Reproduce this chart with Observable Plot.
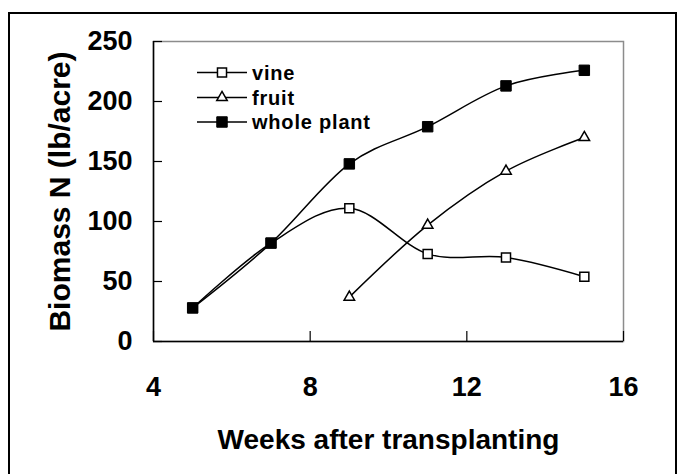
<!DOCTYPE html>
<html><head><meta charset="utf-8">
<script src="https://cdn.jsdelivr.net/npm/d3@7"></script>
<script src="https://cdn.jsdelivr.net/npm/@observablehq/plot@0.6"></script>
<style>
html,body{margin:0;padding:0;background:#fff;overflow:hidden;}
#wrap{position:relative;width:683px;height:474px;overflow:hidden;}
#border{position:absolute;left:8px;top:12px;width:669px;height:490px;border:2px solid #000;box-sizing:border-box;}
#chart,#legend{position:absolute;left:0;top:0;}
</style></head><body>
<div id="wrap"><div id="border"></div><div id="chart"></div><div id="legend"></div></div>
<script>
// Data
const weeks = [5, 7, 9, 11, 13, 15];
const vine = [28, 82, 111, 73, 70, 54];
const fruit = [null, null, 37, 97, 142, 170];
const wholePlant = [28, 82, 148, 179, 213, 226];
const seriesNames = ["vine", "fruit", "whole plant"];
const xTicks = [4, 8, 12, 16];
const yTicks = [0, 50, 100, 150, 200, 250];
const xTitle = "Weeks after transplanting";
const yTitle = "Biomass N (lb/acre)";

const rows = [];
weeks.forEach((w, i) => {
  rows.push({week: w, value: vine[i], series: "vine"});
  if (fruit[i] != null) rows.push({week: w, value: fruit[i], series: "fruit"});
  rows.push({week: w, value: wholePlant[i], series: "whole plant"});
});
const bySeries = s => rows.filter(d => d.series === s);

const font = "'Liberation Sans', Arial, Helvetica, sans-serif";
const markerStyle = {
  "vine": {symbol: "square", fill: "white", r: 5.1, strokeWidth: 1.5},
  "fruit": {symbol: "triangle", fill: "white", r: 3.9, strokeWidth: 1.5},
  "whole plant": {symbol: "square", fill: "black", r: 5.9, strokeWidth: 1}
};

const chart = Plot.plot({
  width: 683, height: 474,
  marginLeft: 153, marginRight: 60, marginTop: 41, marginBottom: 133,
  x: {domain: [4, 16]},
  y: {domain: [0, 250]},
  style: {fontFamily: font, background: "transparent", color: "#000", overflow: "visible"},
  marks: [
    Plot.frame({stroke: "#8c8c8c", strokeWidth: 1.5}),
    Plot.ruleX([4], {stroke: "#000", strokeWidth: 1.5}),
    Plot.ruleY([0], {stroke: "#000", strokeWidth: 1.5}),
    Plot.axisY({ticks: yTicks, tickSize: 9, dx: 9, fill: "none", stroke: "#000", strokeWidth: 1.2}),
    Plot.axisX({ticks: xTicks, tickSize: 10, dy: -10, fill: "none", stroke: "#000", strokeWidth: 1.2}),
    Plot.axisY({ticks: yTicks, tickSize: 0, tickPadding: 21, fontSize: 27, fontWeight: "bold", label: null, fill: "#000"}),
    Plot.axisX({ticks: xTicks, tickSize: 0, tickPadding: 35, fontSize: 27, fontWeight: "bold", label: null, fill: "#000"}),
    Plot.text([yTitle], {frameAnchor: "left", textAnchor: "middle", lineAnchor: "middle", rotate: -90, dx: -93.5, fontSize: 30, fontWeight: "bold", fill: "#000"}),
    Plot.text([xTitle], {frameAnchor: "bottom", textAnchor: "middle", lineAnchor: "middle", dy: 98.5, fontSize: 28, fontWeight: "bold", fill: "#000"}),
    Plot.line(rows, {x: "week", y: "value", z: "series", curve: "cardinal", stroke: "#000", strokeWidth: 1.5}),
    ...seriesNames.map(s => Plot.dot(bySeries(s), {
      x: "week", y: "value", symbol: markerStyle[s].symbol, r: markerStyle[s].r,
      fill: markerStyle[s].fill, stroke: "#000", strokeWidth: markerStyle[s].strokeWidth
    }))
  ]
});
document.getElementById("chart").appendChild(chart);

// Legend (inside plot area, upper left)
const lg = d3.select("#legend").append("svg").attr("width", 683).attr("height", 474)
  .style("font-family", font);
const rowY = [72.5, 97.5, 122];
seriesNames.forEach((s, i) => {
  const g = lg.append("g").attr("transform", `translate(0,${rowY[i]})`);
  g.append("line").attr("x1", 197).attr("x2", 247).attr("y1", 0).attr("y2", 0)
    .attr("stroke", "#000").attr("stroke-width", 1.5);
  const st = markerStyle[s];
  const sym = st.symbol === "square" ? d3.symbolSquare : d3.symbolTriangle;
  g.append("path").attr("d", d3.symbol(sym, st.r * st.r * Math.PI)())
    .attr("transform", "translate(222,0)")
    .attr("fill", st.fill).attr("stroke", "#000").attr("stroke-width", st.strokeWidth);
  g.append("text").attr("x", 252).attr("y", 0).attr("dy", "0.35em")
    .attr("font-size", 20).attr("font-weight", "bold").attr("letter-spacing", 0.8)
    .attr("fill", "#000").text(s);
});
</script>
</body></html>
